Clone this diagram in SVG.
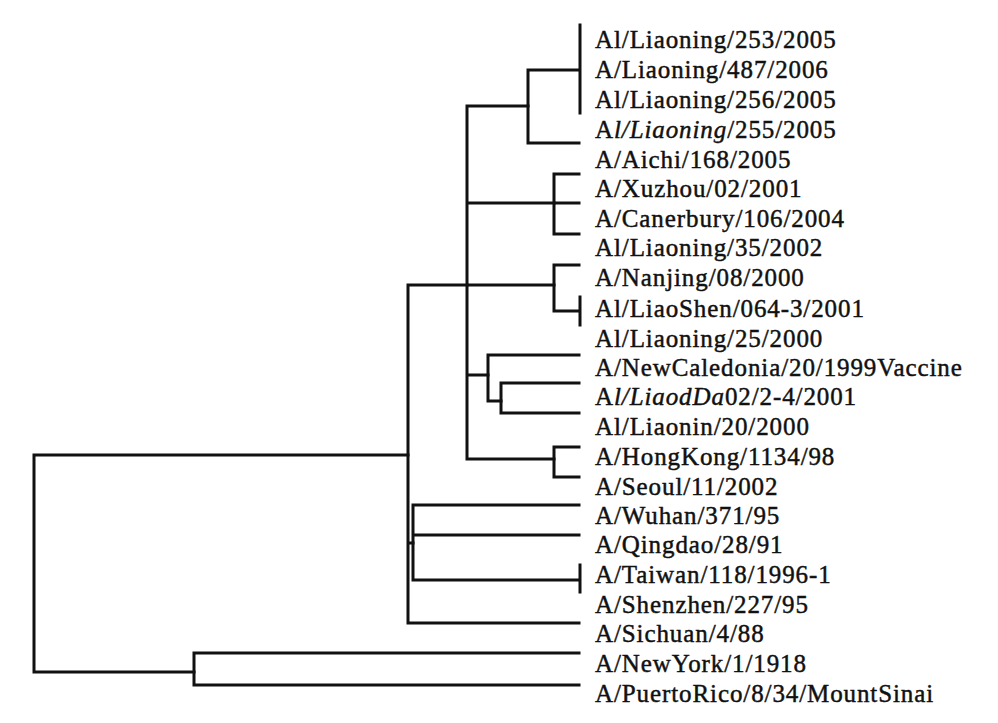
<svg xmlns="http://www.w3.org/2000/svg" width="998" height="723" viewBox="0 0 998 723">
<style>
.e{stroke:#111;stroke-width:3;fill:none;stroke-linecap:square}
.t{font-family:"Liberation Serif","Times New Roman",serif;font-size:25px;letter-spacing:0.9px;fill:#111;stroke:#111;stroke-width:0.45px}
.i{font-style:italic}
</style>
<rect width="998" height="723" fill="#fff"/>
<g id="connectors">
<path class="e" d="M34,455V672M34,455H408M34,672H194"/>
<path class="e" d="M194,653V685M194,653H579M194,685H579"/>
<path class="e" d="M408,285V623M408,623H579M408,285H467M408,543H413"/>
<path class="e" d="M413,505V580M413,505H579M413,535H579M413,580H579M580,565V592"/>
<path class="e" d="M467,106V459M467,106H528M467,203H554M467,285H554M467,375H488M467,459H554"/>
<path class="e" d="M528,70V143M528,70H579M528,143H579M580,25V113"/>
<path class="e" d="M554,174V234M554,174H579M554,203H579M554,234H579"/>
<path class="e" d="M554,265V311M554,265H579M554,311H579M580,297V325"/>
<path class="e" d="M488,355V401M488,355H579M488,401H501"/>
<path class="e" d="M501,383V413M501,383H579M501,413H579"/>
<path class="e" d="M554,447V477M554,447H579M554,477H579"/>
</g>
<g id="leaf1"><text class="t" x="595" y="48">Al/Liaoning/253/2005</text></g>
<g id="leaf2"><text class="t" x="595" y="78">A/Liaoning/487/2006</text></g>
<g id="leaf3"><text class="t" x="595" y="108">Al/Liaoning/256/2005</text></g>
<g id="leaf4"><text class="t" x="595" y="138">A<tspan class="i">l/Liaoning</tspan>/255/2005</text></g>
<g id="leaf5"><text class="t" x="595" y="168">A/Aichi/168/2005</text></g>
<g id="leaf6"><text class="t" x="595" y="197">A/Xuzhou/02/2001</text></g>
<g id="leaf7"><text class="t" x="595" y="227">A/Canerbury/106/2004</text></g>
<g id="leaf8"><text class="t" x="595" y="256">Al/Liaoning/35/2002</text></g>
<g id="leaf9"><text class="t" x="595" y="286">A/Nanjing/08/2000</text></g>
<g id="leaf10"><text class="t" x="595" y="317">Al/LiaoShen/064-3/2001</text></g>
<g id="leaf11"><text class="t" x="595" y="347">Al/Liaoning/25/2000</text></g>
<g id="leaf12"><text class="t" x="595" y="376">A/NewCaledonia/20/1999Vaccine</text></g>
<g id="leaf13"><text class="t" x="595" y="405">A<tspan class="i">l/LiaodDa</tspan>02/2-4/2001</text></g>
<g id="leaf14"><text class="t" x="595" y="435">Al/Liaonin/20/2000</text></g>
<g id="leaf15"><text class="t" x="595" y="465">A/HongKong/1134/98</text></g>
<g id="leaf16"><text class="t" x="595" y="495">A/Seoul/11/2002</text></g>
<g id="leaf17"><text class="t" x="595" y="524">A/Wuhan/371/95</text></g>
<g id="leaf18"><text class="t" x="595" y="553">A/Qingdao/28/91</text></g>
<g id="leaf19"><text class="t" x="595" y="583">A/Taiwan/118/1996-1</text></g>
<g id="leaf20"><text class="t" x="595" y="613">A/Shenzhen/227/95</text></g>
<g id="leaf21"><text class="t" x="595" y="642">A/Sichuan/4/88</text></g>
<g id="leaf22"><text class="t" x="595" y="672">A/NewYork/1/1918</text></g>
<g id="leaf23"><text class="t" x="595" y="702">A/PuertoRico/8/34/MountSinai</text></g>
</svg>
